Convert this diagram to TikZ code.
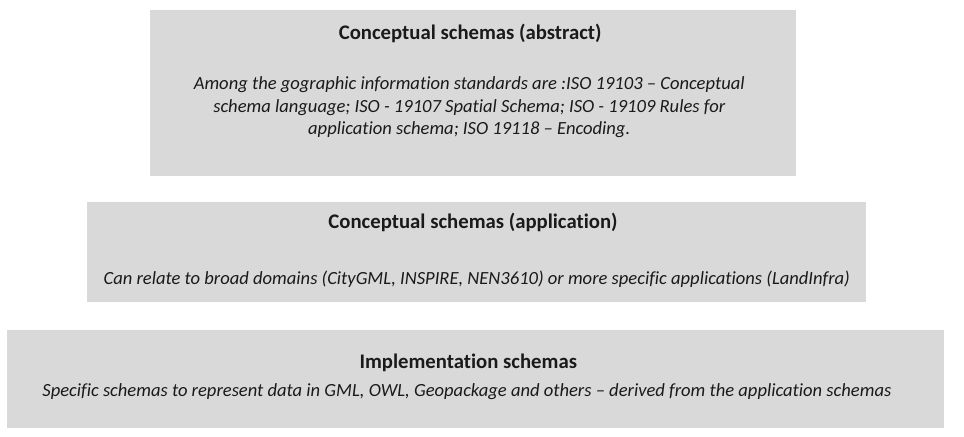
\documentclass[tikz,border=0pt]{standalone}
\usepackage{fontspec}
\setmainfont{Carlito}[Ligatures=NoCommon]
\definecolor{boxgrey}{HTML}{D9D9D9}
\definecolor{ink}{HTML}{1A1A1A}
\tikzset{
  layer/.style={fill=boxgrey, draw=none},
  heading/.style={anchor=base, inner sep=0pt, text=ink, font=\fontsize{22}{26}\selectfont\bfseries},
  bodyline/.style={anchor=base, inner sep=0pt, text=ink, font=\fontsize{19.7}{23.5}\selectfont\itshape},
}
\begin{document}
\begin{tikzpicture}[x=1bp, y=-1bp]
  \useasboundingbox (0,0) rectangle (1019,461);
  % three stacked schema layers, widening downwards
  \fill[layer] (159,11) rectangle (841,186);
  \fill[layer] (92,213) rectangle (915,319);
  \fill[layer] (7,349) rectangle (998,452);

  % abstract layer
  \node[heading] (abstitle) at (497,42) {Conceptual schemas (abstract)};
  \node[bodyline] (absa) at (496,95) {Among the gographic information standards are :ISO 19103 – Conceptual};
  \node[bodyline] (absb) at (496,118.5) {schema language; ISO - 19107 Spatial Schema; ISO - 19109 Rules for};
  \node[bodyline] (absc) at (496,142) {application schema; ISO 19118 – Encoding.};

  % application layer
  \node[heading] (apptitle) at (500,242) {Conceptual schemas (application)};
  \node[bodyline] (appa) at (504,301) {Can relate to broad domains (CityGML, INSPIRE, NEN3610) or more specific applications (LandInfra)};

  % implementation layer
  \node[heading] (impltitle) at (495,390) {Implementation schemas};
  \node[bodyline] (impla) at (493.5,419) {Specific schemas to represent data in GML, OWL, Geopackage and others – derived from the application schemas};
\end{tikzpicture}
\end{document}
